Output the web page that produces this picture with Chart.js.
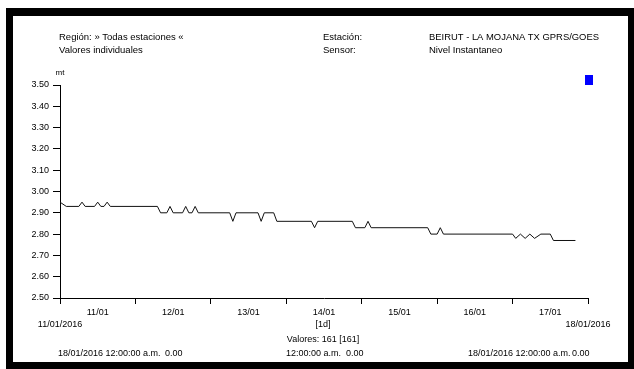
<!DOCTYPE html>
<html>
<head>
<meta charset="utf-8">
<script src="https://cdn.jsdelivr.net/npm/chart.js@4.4.1/dist/chart.umd.min.js"></script>
<style>
    html, body { margin: 0; padding: 0; background: #fff; }
    canvas { display: block; }
</style>
</head>
<body>
<canvas id="levelChart" width="634" height="369"></canvas>
<script>
// hours since 11/01/2016 00:00 and the level read at that moment (mt)
const hours = [0, 2, 6, 7, 8, 11, 12, 13, 14, 15, 16, 31, 32, 34, 35, 36, 39, 40, 41, 42, 43, 44,
    54, 55, 56, 63, 64, 65, 68, 69, 80, 81, 82, 93, 94, 97, 98, 99, 117, 118, 120, 121, 122,
    144, 145, 146.5, 148, 149.5, 151, 153, 156, 157, 164];
const levels = [2.95, 2.93, 2.93, 2.95, 2.93, 2.93, 2.95, 2.93, 2.93, 2.95, 2.93, 2.93, 2.90, 2.90, 2.93, 2.90, 2.90, 2.93, 2.90, 2.90, 2.93, 2.90,
    2.90, 2.86, 2.90, 2.90, 2.86, 2.90, 2.90, 2.86, 2.86, 2.83, 2.86, 2.86, 2.83, 2.83, 2.86, 2.83, 2.83, 2.80, 2.80, 2.83, 2.80,
    2.80, 2.78, 2.80, 2.78, 2.80, 2.78, 2.80, 2.80, 2.77, 2.77];

const dayLabels = ["11/01", "12/01", "13/01", "14/01", "15/01", "16/01", "17/01"];
const yMin = 2.5;
const yMax = 3.5;

const FONT = "'Liberation Sans', Arial, sans-serif";

// Report frame, header and footer texts
const reportPlugin = {
    id: "report",
    beforeDraw(chart) {
        const ctx = chart.ctx;
        ctx.save();
        ctx.fillStyle = "#fff";
        ctx.fillRect(0, 0, chart.width, chart.height);
        ctx.fillStyle = "#000";
        ctx.fillRect(6, 8, 628, 8);    // top
        ctx.fillRect(6, 8, 7, 361);    // left
        ctx.fillRect(628, 8, 6, 361);  // right
        ctx.fillRect(6, 362, 628, 7);  // bottom
        ctx.restore();
    },
    afterDraw(chart) {
        const ctx = chart.ctx;
        const text = (s, x, y, align, size, maxW) => {
            ctx.font = size + "px " + FONT;
            ctx.textAlign = align;
            ctx.fillText(s, x, y, maxW);
        };
        ctx.save();
        ctx.fillStyle = "#000";
        ctx.textBaseline = "middle";

        // header
        text("Región: » Todas estaciones «", 59, 37, "left", 9.5, 126);
        text("Valores individuales", 59, 50, "left", 9.5, 88);
        text("Estación:", 323, 37, "left", 9.5, 40);
        text("Sensor:", 323, 50, "left", 9.5, 34);
        text("BEIRUT - LA MOJANA TX GPRS/GOES", 429, 37, "left", 9.5, 170);
        text("Nivel Instantaneo", 429, 50, "left", 9.5, 75);

        // unit
        text("mt", 60, 73, "center", 8);

        // legend marker
        ctx.fillStyle = "#0000ff";
        ctx.fillRect(585, 75, 8, 10);
        ctx.fillStyle = "#000";

        // footer
        const x = chart.scales.x;
        text("11/01/2016", x.left, 325, "center", 9);
        text("18/01/2016", x.right, 325, "center", 9);
        text("[1d]", 323, 325, "center", 9);
        text("Valores: 161 [161]", 323, 340, "center", 9);
        text("18/01/2016 12:00:00 a.m.", 58, 354, "left", 9);
        text("0.00", 165, 354, "left", 9);
        text("12:00:00 a.m.", 286, 354, "left", 9);
        text("0.00", 346, 354, "left", 9);
        text("18/01/2016 12:00:00 a.m.", 468, 354, "left", 9);
        text("0.00", 572, 354, "left", 9);
        ctx.restore();
    },
};

new Chart(document.getElementById("levelChart"), {
    type: "line",
    data: {
        datasets: [
            {
                label: "Nivel Instantaneo",
                data: hours.map((h, i) => ({ x: h, y: levels[i] })),
                borderColor: "#111",
                borderWidth: 1,
                pointRadius: 0,
                tension: 0,
                fill: false,
            },
        ],
    },
    options: {
        responsive: false,
        animation: false,
        layout: { padding: { left: 0, top: 85, right: 46, bottom: 0 } },
        plugins: {
            legend: { display: false },
            tooltip: { enabled: false },
        },
        scales: {
            x: {
                type: "linear",
                min: 0,
                max: 168,
                afterFit: (scale) => { scale.height = 71; },
                border: { display: true, color: "#000", width: 1 },
                grid: {
                    drawOnChartArea: false,
                    drawTicks: true,
                    tickLength: 6,
                    color: (c) => (c.tick && c.tick.value % 24 === 0 ? "#000" : "rgba(0,0,0,0)"),
                },
                ticks: {
                    stepSize: 12,
                    autoSkip: false,
                    maxRotation: 0,
                    padding: 3,
                    color: "#000",
                    font: { family: FONT, size: 9 },
                    callback: (v) => (v % 24 === 12 ? dayLabels[(v - 12) / 24] : ""),
                },
            },
            y: {
                min: yMin,
                max: yMax,
                afterFit: (scale) => { scale.width = 60; },
                border: { display: true, color: "#000", width: 1 },
                grid: {
                    drawOnChartArea: false,
                    drawTicks: true,
                    tickLength: 7,
                    color: "#000",
                },
                ticks: {
                    stepSize: 0.1,
                    padding: 4,
                    color: "#000",
                    font: { family: FONT, size: 9 },
                    callback: (v) => v.toFixed(2),
                },
            },
        },
    },
    plugins: [reportPlugin],
});
</script>
</body>
</html>
